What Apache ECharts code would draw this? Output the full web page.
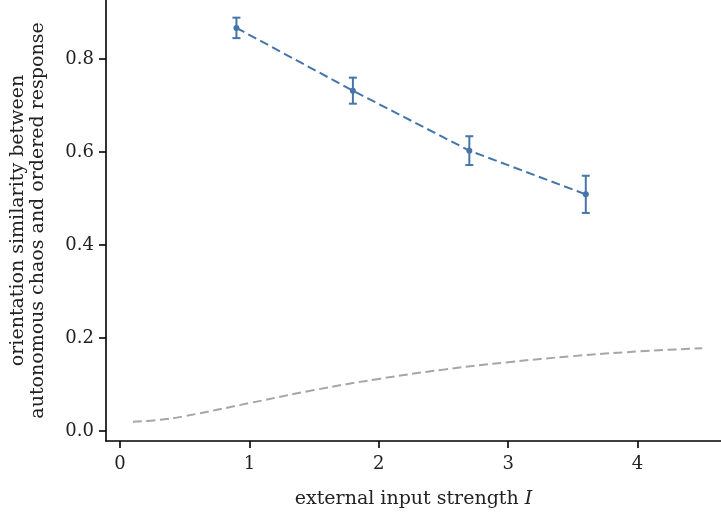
<!DOCTYPE html>
<html>
<head>
<meta charset="utf-8">
<script src="https://cdn.jsdelivr.net/npm/echarts@6/dist/echarts.min.js"></script>
<style>
  html, body { margin: 0; padding: 0; background: #fff; }
  #chart { width: 721px; height: 514px; }
</style>
</head>
<body>
<div id="chart"></div>
<script>
// Measured similarity with standard error, at each input strength
const inputStrength = [0.9, 1.8, 2.7, 3.6];
const similarity = [0.867, 0.732, 0.603, 0.509];
const similarityErr = [0.022, 0.028, 0.031, 0.040];

// Baseline curve (grey dashed)
const baselineX = [0.1, 0.3, 0.5, 1.0, 1.5, 2.0, 2.5, 3.0, 3.5, 4.0, 4.5];
const baselineY = [0.020, 0.024, 0.032, 0.060, 0.088, 0.112, 0.132, 0.148, 0.161, 0.171, 0.178];

const xTicks = [0, 1, 2, 3, 4];
const yTicks = [0.0, 0.2, 0.4, 0.6, 0.8];

const BLUE = '#4575a9';
const GREY = '#a6a6a6';
const FONT = 'DejaVu Serif';
const FS = 19;

const chart = echarts.init(document.getElementById('chart'));

const pts = inputStrength.map((x, i) => [x, similarity[i]]);
const errs = inputStrength.map((x, i) => [x, similarity[i] - similarityErr[i], similarity[i] + similarityErr[i]]);
const base = baselineX.map((x, i) => [x, baselineY[i]]);

chart.setOption({
  animation: false,
  grid: { left: 105, right: 0, top: 0, bottom: 73 },
  xAxis: {
    type: 'value', min: -0.108, max: 4.645,
    axisLine: { show: true, onZero: false, lineStyle: { color: '#000', width: 1.6 } },
    axisTick: { show: true, customValues: xTicks, length: 7, lineStyle: { color: '#000', width: 1.6 } },
    axisLabel: { customValues: xTicks, color: '#222', fontFamily: FONT, fontSize: 18, margin: 14,
      formatter: v => String(v) },
    splitLine: { show: false },
    name: '{a|external input strength }{b|I}',
    nameLocation: 'middle', nameGap: 49,
    nameTextStyle: { rich: {
      a: { fontFamily: FONT, fontSize: FS, color: '#222' },
      b: { fontFamily: FONT, fontSize: FS, color: '#222', fontStyle: 'italic' }
    } }
  },
  yAxis: {
    type: 'value', min: -0.0215, max: 0.927,
    axisLine: { show: true, onZero: false, lineStyle: { color: '#000', width: 1.6 } },
    axisTick: { show: true, customValues: yTicks, length: 7, lineStyle: { color: '#000', width: 1.6 } },
    axisLabel: { customValues: yTicks, color: '#222', fontFamily: FONT, fontSize: 18, margin: 12,
      formatter: v => v.toFixed(1) },
    splitLine: { show: false },
    name: 'orientation similarity between\nautonomous chaos and ordered response',
    nameLocation: 'middle', nameGap: 58, nameRotate: 90,
    nameTextStyle: { fontFamily: FONT, fontSize: FS, color: '#222', lineHeight: 20 }
  },
  series: [
    {
      type: 'line', data: base, smooth: true, showSymbol: false,
      lineStyle: { color: GREY, width: 2, type: [9, 4.5] }
    },
    {
      type: 'line', data: pts, showSymbol: true, symbol: 'circle', symbolSize: 6,
      itemStyle: { color: BLUE },
      lineStyle: { color: BLUE, width: 2, type: [9, 4.5] }
    },
    {
      type: 'custom', data: errs,
      renderItem: (params, api) => {
        const x = api.value(0);
        const lo = api.coord([x, api.value(1)]);
        const hi = api.coord([x, api.value(2)]);
        const cap = 4;
        const style = { stroke: BLUE, lineWidth: 2 };
        return {
          type: 'group',
          children: [
            { type: 'line', shape: { x1: lo[0], y1: lo[1], x2: hi[0], y2: hi[1] }, style },
            { type: 'line', shape: { x1: lo[0] - cap, y1: lo[1], x2: lo[0] + cap, y2: lo[1] }, style },
            { type: 'line', shape: { x1: hi[0] - cap, y1: hi[1], x2: hi[0] + cap, y2: hi[1] }, style }
          ]
        };
      },
      z: 3
    }
  ]
});
</script>
</body>
</html>
